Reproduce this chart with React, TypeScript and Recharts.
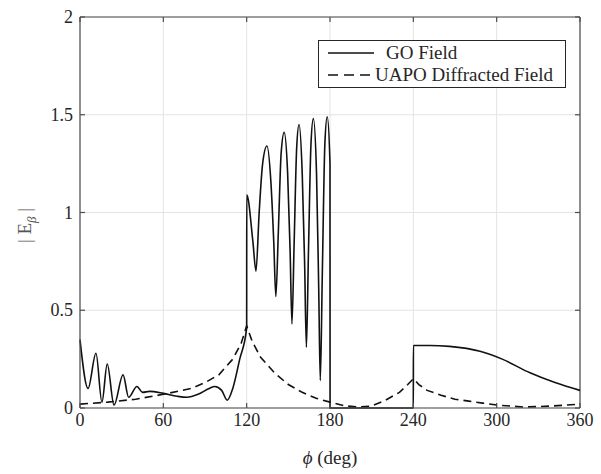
import {
  CartesianGrid,
  Line,
  LineChart,
  ReferenceLine,
  XAxis,
  YAxis,
} from 'recharts';

const phiTicks = [0, 60, 120, 180, 240, 300, 360];
const eTicks = [0, 0.5, 1, 1.5, 2];

// GO field (jumps at 120, 180 and 240 deg)
const goPhi = [
  0, 5.8, 11.5, 15.8, 19.6, 24.5, 31, 35, 41, 45, 50, 60, 70, 77, 85, 93, 97, 102, 106, 110,
  115, 120, 120.05, 124.5, 126.7, 129, 131.5, 134.6, 137.5, 139.5, 141, 142.8, 144.8, 147,
  149.5, 151.3, 152.6, 154.2, 156, 157.7, 160, 161.7, 163, 164.5, 166.3, 168, 170.3, 171.9,
  173, 174.5, 176.3, 178, 180, 180.05, 240, 240.05, 252, 266, 288, 304, 324, 342, 360,
];
const goField = [
  0.35, 0.1, 0.28, 0.03, 0.225, 0.015, 0.17, 0.055, 0.11, 0.08, 0.085, 0.075, 0.06, 0.055,
  0.07, 0.1, 0.11, 0.09, 0.04, 0.1, 0.25, 0.41, 1.09, 0.85, 0.7, 1.0, 1.25, 1.34, 1.15, 0.85,
  0.57, 0.9, 1.3, 1.41, 1.2, 0.8, 0.43, 0.85, 1.33, 1.45, 1.2, 0.75, 0.31, 0.8, 1.35, 1.48,
  1.2, 0.6, 0.14, 0.7, 1.35, 1.49, 1.25, 0, 0, 0.32, 0.32, 0.315, 0.29, 0.25, 0.18, 0.13, 0.09,
];

// UAPO diffracted field
const uapoPhi = [
  0, 20, 40, 60, 80, 90, 100, 110, 116, 120, 124, 130, 140, 150, 160, 170, 180, 190, 200, 210,
  220, 230, 236, 240, 244, 250, 260, 270, 280, 290, 300, 320, 340, 360,
];
const uapoField = [
  0.02, 0.03, 0.045, 0.07, 0.1, 0.13, 0.17, 0.25, 0.33, 0.42, 0.34, 0.26, 0.18, 0.12, 0.08,
  0.05, 0.03, 0.012, 0.005, 0.01, 0.04, 0.08, 0.12, 0.15, 0.12, 0.09, 0.065, 0.045, 0.035,
  0.025, 0.015, 0.005, 0.01, 0.02,
];

const goData = goPhi.map((phi, i) => ({ phi, value: goField[i] }));
const uapoData = uapoPhi.map((phi, i) => ({ phi, value: uapoField[i] }));

const FONT = '"Liberation Serif", "Times New Roman", serif';
const AXIS = '#4d4d4d';
const TEXT = '#262626';

type TickProps = { x?: number; y?: number; payload?: { value: number } };

const XTick = ({ x = 0, y = 0, payload }: TickProps) => (
  <text x={x} y={y + 14} textAnchor="middle" fontFamily={FONT} fontSize={18} fill={TEXT}>
    {payload?.value}
  </text>
);

const YTick = ({ x = 0, y = 0, payload }: TickProps) => (
  <text x={x} y={y + 6} textAnchor="end" fontFamily={FONT} fontSize={18} fill={TEXT}>
    {payload?.value}
  </text>
);

const XLabel = ({ viewBox }: { viewBox?: { x: number; y: number; width: number } }) => {
  if (!viewBox) return null;
  return (
    <text x={viewBox.x + viewBox.width / 2} y={viewBox.y + 56} textAnchor="middle" fontFamily={FONT} fontSize={19} fill={TEXT}>
      <tspan fontStyle="italic">ϕ</tspan>
      <tspan> (deg)</tspan>
    </text>
  );
};

const YLabel = ({ viewBox }: { viewBox?: { x: number; y: number; height: number } }) => {
  if (!viewBox) return null;
  const cx = 31;
  const cy = viewBox.y + viewBox.height / 2 + 13;
  return (
    <text x={cx} y={cy} transform={`rotate(-90 ${cx} ${cy})`} textAnchor="middle" fontFamily={FONT} fontSize={19} fill="#555">
      <tspan>| E</tspan>
      <tspan fontStyle="italic" fontSize={13} dy={5}>β</tspan>
      <tspan dy={-5}> |</tspan>
    </text>
  );
};

const LegendBox = () => (
  <div
    style={{
      position: 'absolute',
      top: 40,
      left: 318,
      width: 248,
      boxSizing: 'border-box',
      border: `1px solid ${TEXT}`,
      background: '#fff',
      fontFamily: FONT,
      fontSize: 19,
      color: TEXT,
      padding: '1px 0 1px 9px',
      lineHeight: '22px',
    }}
  >
    <div style={{ display: 'flex', alignItems: 'center' }}>
      <svg width={46} height={10}>
        <line x1={0} y1={5} x2={46} y2={5} stroke="#111" strokeWidth={1.6} />
      </svg>
      <span style={{ marginLeft: 12 }}>GO Field</span>
    </div>
    <div style={{ display: 'flex', alignItems: 'center' }}>
      <svg width={46} height={10}>
        <line x1={0} y1={5} x2={46} y2={5} stroke="#111" strokeWidth={1.6} strokeDasharray="10 6" />
      </svg>
      <span style={{ marginLeft: 1 }}>UAPO Diffracted Field</span>
    </div>
  </div>
);

const App = () => (
  <div style={{ position: 'absolute', left: 0, top: 0, width: 601, height: 474, background: '#fff', fontFamily: FONT }}>
    <LineChart width={601} height={474} margin={{ top: 17, right: 21, left: 0, bottom: 0 }}>
      <CartesianGrid stroke="#e3e3e3" />
      <XAxis
        dataKey="phi"
        type="number"
        domain={[0, 360]}
        ticks={phiTicks}
        height={66}
        stroke={AXIS}
        strokeWidth={1.2}
        tickSize={-5}
        tickMargin={9}
        tick={<XTick />}
        label={<XLabel />}
        allowDuplicatedCategory={false}
      />
      <YAxis
        type="number"
        domain={[0, 2]}
        ticks={eTicks}
        width={80}
        stroke={AXIS}
        strokeWidth={1.2}
        tickSize={-5}
        tickMargin={12}
        tick={<YTick />}
        label={<YLabel />}
      />
      <ReferenceLine y={2} stroke={AXIS} strokeWidth={1.2} />
      <ReferenceLine x={360} stroke={AXIS} strokeWidth={1.2} />
      {phiTicks.map((t) => (
        <ReferenceLine key={`tt${t}`} stroke={AXIS} strokeWidth={1.2} segment={[{ x: t, y: 2 }, { x: t, y: 1.975 }]} />
      ))}
      {eTicks.map((t) => (
        <ReferenceLine key={`rt${t}`} stroke={AXIS} strokeWidth={1.2} segment={[{ x: 360, y: t }, { x: 356.4, y: t }]} />
      ))}
      <Line
        data={goData}
        dataKey="value"
        name="GO Field"
        type="monotone"
        stroke="#111"
        strokeWidth={1.6}
        dot={false}
        isAnimationActive={false}
      />
      <Line
        data={uapoData}
        dataKey="value"
        name="UAPO Diffracted Field"
        type="linear"
        stroke="#111"
        strokeWidth={1.6}
        strokeDasharray="8 5"
        dot={false}
        isAnimationActive={false}
      />
    </LineChart>
    <LegendBox />
  </div>
);

export default App;
